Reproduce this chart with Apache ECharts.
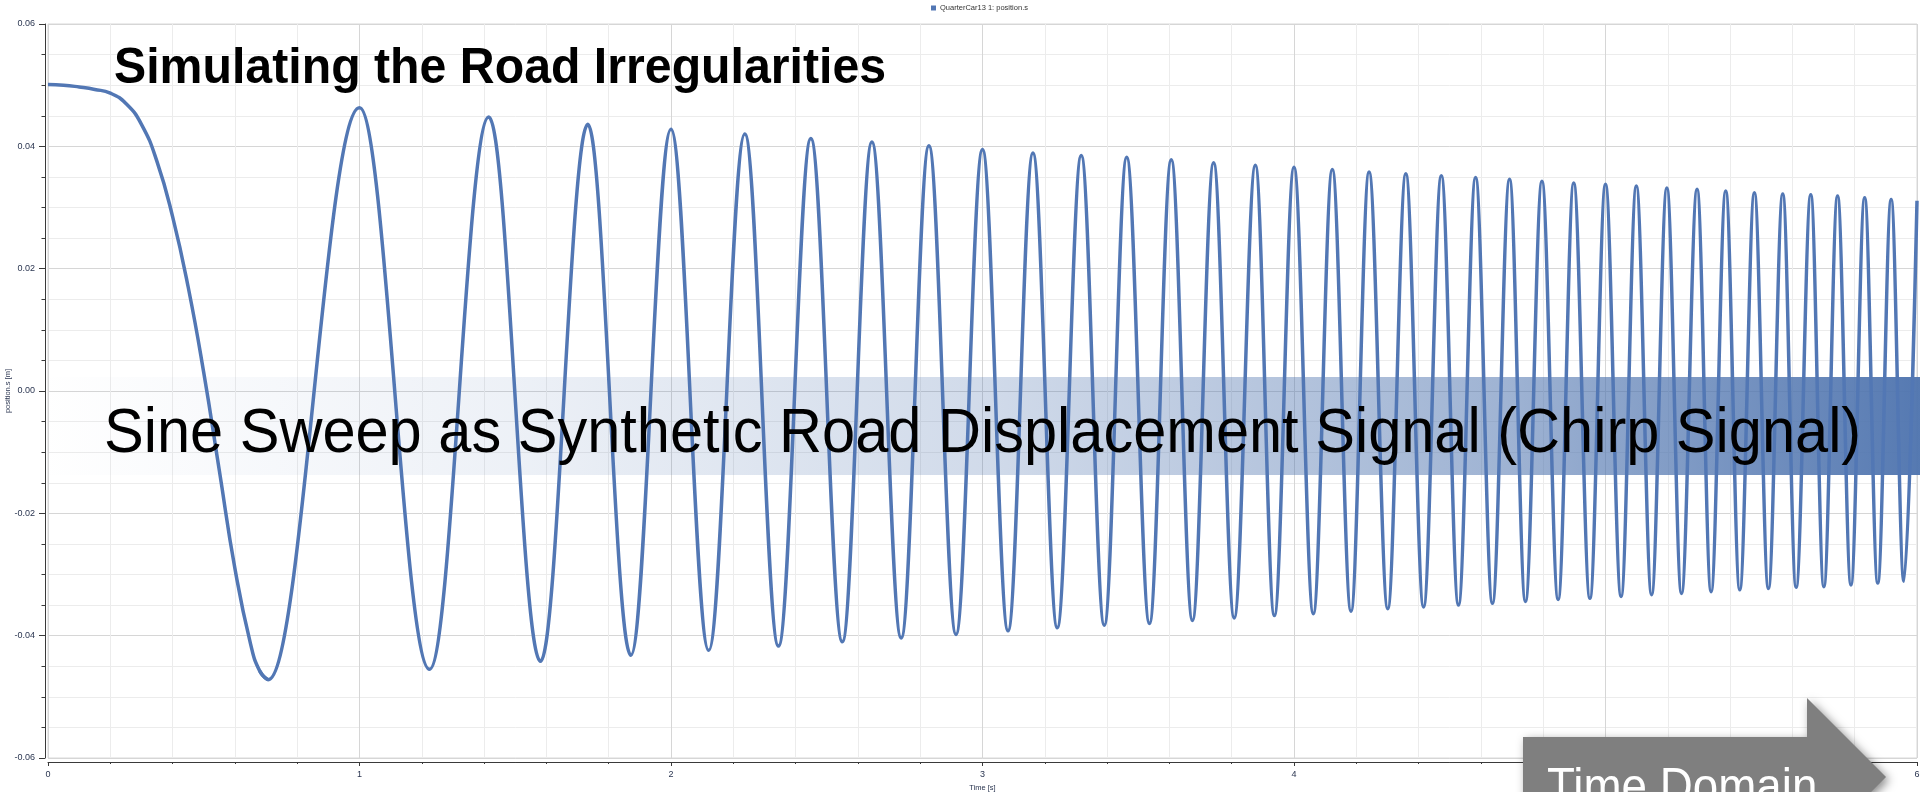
<!DOCTYPE html>
<html><head><meta charset="utf-8">
<script src="https://cdn.jsdelivr.net/npm/echarts@6/dist/echarts.min.js"></script>
<style>html,body{margin:0;padding:0;background:#fff;overflow:hidden}#c{width:1920px;height:792px}</style>
</head><body><div id="c"></div>
<script>
const seriesName = 'QuarterCar13 1: position.s';
const xAxisName = 'Time [s]';
const yAxisName = 'position.s [m]';
const titleText = 'Simulating the Road Irregularities';
const bannerText = 'Sine Sweep as Synthetic Road Displacement Signal (Chirp Signal)';
const arrowText = 'Time Domain';

// initial descent of the signal
const startTimes  = [0, 0.05, 0.1, 0.15, 0.2, 0.25, 0.3, 0.35, 0.4, 0.45, 0.5, 0.55, 0.6, 0.65, 0.68, 0.707];
const startValues = [0.0501, 0.0500, 0.0497, 0.0493, 0.0487, 0.0470, 0.0436, 0.0375, 0.0285, 0.0170, 0.0030, -0.0130, -0.0290, -0.0413, -0.0458, -0.0472];

// maxima and minima of the sweep
const peakTimes = [1.00, 1.415, 1.733, 2.00, 2.237, 2.449, 2.645, 2.828, 3.00, 3.162, 3.317, 3.463, 3.606, 3.742, 3.876, 4.00, 4.123, 4.241, 4.359, 4.473, 4.583, 4.692, 4.796, 4.898, 5.00, 5.099, 5.197, 5.294, 5.386, 5.478, 5.569, 5.659, 5.745, 5.832, 5.917, 6.00];
const peakValues = [0.0463, 0.0448, 0.0436, 0.0428, 0.0420, 0.0413, 0.0407, 0.0401, 0.0395, 0.0389, 0.0385, 0.0382, 0.0378, 0.0373, 0.0369, 0.0366, 0.0362, 0.0358, 0.0355, 0.0352, 0.0349, 0.0346, 0.0343, 0.0340, 0.0338, 0.0335, 0.0332, 0.0330, 0.0327, 0.0324, 0.0322, 0.0321, 0.0319, 0.0316, 0.0313, 0.0311];
const troughTimes = [0.707, 1.225, 1.581, 1.871, 2.121, 2.345, 2.55, 2.739, 2.915, 3.082, 3.24, 3.391, 3.536, 3.674, 3.808, 3.937, 4.062, 4.183, 4.301, 4.416, 4.528, 4.637, 4.743, 4.848, 4.95, 5.05, 5.148, 5.244, 5.339, 5.431, 5.523, 5.612, 5.701, 5.788, 5.874, 5.958];
const troughValues = [-0.0472, -0.0455, -0.0442, -0.0432, -0.0424, -0.0417, -0.0410, -0.0404, -0.0398, -0.0392, -0.0387, -0.0383, -0.0380, -0.0375, -0.0371, -0.0367, -0.0364, -0.0360, -0.0356, -0.0353, -0.0350, -0.0347, -0.0344, -0.0341, -0.0339, -0.0336, -0.0333, -0.0331, -0.0328, -0.0325, -0.0323, -0.0321, -0.0320, -0.0317, -0.0314, -0.0311];

const startData = startTimes.map((t, i) => [t, startValues[i]]);
const sweepData = [[startTimes[startTimes.length - 2], startValues[startValues.length - 2]]];
for (let i = 0; i < troughTimes.length; i++) {
  sweepData.push([troughTimes[i], troughValues[i]]);
  if (i < peakTimes.length) sweepData.push([peakTimes[i], peakValues[i]]);
}

const lineColor = '#5277b4';
const labelColor = '#2a3550';
const axisColor = '#3a3a3a';
const FF = '"Liberation Sans", Arial, sans-serif';

const chart = echarts.init(document.getElementById('c'), null, {renderer: 'canvas'});
chart.setOption({
  animation: false,
  backgroundColor: '#ffffff',
  legend: {
    data: [seriesName], left: 931, top: 4, icon: 'rect', itemWidth: 5, itemHeight: 5, itemGap: 4, padding: 0,
    textStyle: {fontSize: 7.5, fontFamily: FF, color: '#333', padding: [0, 0, 0, -1]}
  },
  grid: {left: 48, top: 24, right: 3, bottom: 34, show: true, borderColor: '#d8d8d8', borderWidth: 1,
         containLabel: false, outerBoundsMode: 'none'},
  xAxis: {
    type: 'value', min: 0, max: 6, interval: 1, offset: 4,
    name: xAxisName, nameLocation: 'middle', nameGap: 22, nameMoveOverlap: false,
    nameTextStyle: {fontSize: 7.5, fontFamily: FF, color: labelColor},
    axisLine: {show: true, onZero: false, lineStyle: {color: axisColor, width: 1}},
    axisTick: {show: true, length: 4, lineStyle: {color: axisColor}},
    minorTick: {show: true, splitNumber: 5, length: 2, lineStyle: {color: axisColor}},
    axisLabel: {fontSize: 9, fontFamily: FF, color: labelColor, margin: 8},
    splitLine: {show: true, lineStyle: {color: '#d6d6d6', width: 1}},
    minorSplitLine: {show: true, lineStyle: {color: '#ececec', width: 1}}
  },
  yAxis: {
    type: 'value', min: -0.06, max: 0.06, interval: 0.02, offset: 3,
    name: yAxisName, nameLocation: 'middle', nameGap: 33, nameMoveOverlap: false,
    nameTextStyle: {fontSize: 7.5, fontFamily: FF, color: labelColor},
    axisLine: {show: true, onZero: false, lineStyle: {color: axisColor, width: 1}},
    axisTick: {show: true, length: 6, lineStyle: {color: axisColor}},
    minorTick: {show: true, splitNumber: 4, length: 3.5, lineStyle: {color: axisColor}},
    axisLabel: {fontSize: 9, fontFamily: FF, color: labelColor, margin: 10,
      formatter: v => (Math.abs(v) < 1e-9 ? 0 : v).toFixed(2)},
    splitLine: {show: true, lineStyle: {color: '#d6d6d6', width: 1}},
    minorSplitLine: {show: true, lineStyle: {color: '#ececec', width: 1}}
  },
  series: [
    {name: seriesName, type: 'line', data: startData, smooth: 0.5, showSymbol: false, symbol: 'none',
     lineStyle: {color: lineColor, width: 3.5}, itemStyle: {color: lineColor}, z: 3},
    {name: seriesName, type: 'line', data: sweepData, smooth: 0.36, smoothMonotone: 'x', showSymbol: false, symbol: 'none',
     lineStyle: {color: lineColor, width: 3.5}, itemStyle: {color: lineColor}, z: 3}
  ],
  graphic: [
    {type: 'rect', z: 1, silent: true,
     shape: {x: 40, y: 377, width: 1880, height: 98},
     style: {fill: {type: 'linear', x: 0, y: 0, x2: 1, y2: 0, colorStops: [
       {offset: 0, color: 'rgba(80,117,175,0)'},
       {offset: 0.25, color: 'rgba(80,117,175,0.10)'},
       {offset: 0.51, color: 'rgba(80,117,175,0.27)'},
       {offset: 0.78, color: 'rgba(80,117,175,0.55)'},
       {offset: 1, color: 'rgba(80,117,175,0.97)'}]}}},
    {type: 'text', z: 10, silent: true, x: 114, y: 69, scaleX: 0.965,
     style: {text: titleText, font: 'bold 50px ' + FF, fill: '#000', align: 'left', textAlign: 'left', verticalAlign: 'middle', textVerticalAlign: 'middle'}},
    {type: 'text', z: 10, silent: true, x: 104, y: 435, scaleX: 0.945,
     style: {text: bannerText, font: '63px ' + FF, fill: '#000', align: 'left', textAlign: 'left', verticalAlign: 'middle', textVerticalAlign: 'middle'}},
    {type: 'polygon', z: 20, silent: true,
     shape: {points: [[1523, 737], [1807, 737], [1807, 698], [1886, 777], [1807, 856], [1807, 817], [1523, 817]]},
     style: {fill: '#7f7f7f', shadowBlur: 10, shadowColor: 'rgba(0,0,0,0.45)', shadowOffsetX: 3, shadowOffsetY: 3}},
    {type: 'text', z: 21, silent: true, x: 1547, y: 789, scaleX: 0.915,
     style: {text: arrowText, font: '50px ' + FF, fill: '#ffffff', align: 'left', textAlign: 'left', verticalAlign: 'middle', textVerticalAlign: 'middle'}}
  ]
});
</script>
</body></html>
